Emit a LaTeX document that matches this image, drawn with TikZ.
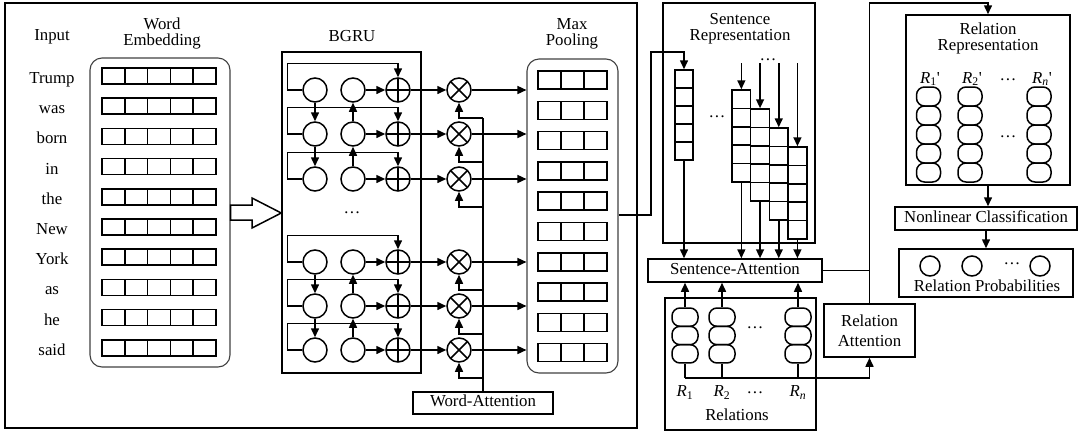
\documentclass[tikz,border=0pt]{standalone}
\usepackage{fontspec}
\setmainfont{Liberation Serif}
\usetikzlibrary{arrows.meta}

\tikzset{
  lbl/.style={anchor=base, inner sep=0pt},
  dots/.style={inner sep=0pt},
  box/.style={draw, inner sep=0pt, text height=10.5pt, text depth=3pt},
  panel/.style={draw, inner sep=0pt},
  soft/.style={draw=black!75, line width=1.1pt, inner sep=0pt, rounded corners=12pt},
  unit/.style={circle, draw, minimum size=24pt, inner sep=0pt},
  oplus/.style={unit, path picture={\draw (path picture bounding box.north) -- (path picture bounding box.south)
      (path picture bounding box.west) -- (path picture bounding box.east);}},
  otimes/.style={unit, path picture={\draw (path picture bounding box.north west) -- (path picture bounding box.south east)
      (path picture bounding box.north east) -- (path picture bounding box.south west);}},
  arr/.style={-{Triangle[length=9pt,width=8pt]}},
  pill/.style={rounded corners=8pt},
}

\begin{document}
\begin{tikzpicture}[x=1pt, y=-1pt, line width=1.5pt, font=\fontsize{16.8}{18}\selectfont]
\useasboundingbox (0,0) rectangle (1079,432);

% ---------- word-level encoder frame ----------
\node[panel, minimum width=632, minimum height=425] (enc) at (321,215.5) {};

\node[lbl] (tin) at (52,40.5) {Input};
\node[lbl] (twe1) at (162,29.3) {Word};
\node[lbl] (twe2) at (162,45.7) {Embedding};
\node[lbl] (tbg) at (352,41.5) {BGRU};
\node[lbl] (tmp1) at (572,29.3) {Max};
\node[lbl] (tmp2) at (572,45) {Pooling};

% words and their embedding rows
\node[soft, minimum width=140, minimum height=309] (we) at (160,212.5) {};
\foreach \w [count=\i from 0] in {Trump,was,born,in,the,New,York,as,he,said} {
  \pgfmathsetmacro\yc{76+30.2*\i}
  \node[lbl] (w\i) at (52,\yc+7.5) {\w};
  \foreach \k in {0,...,4} \draw (102+22.8*\k,\yc-8) rectangle ++(22.8,16);
}

% BGRU block
\node[panel, minimum width=139, minimum height=321] (bg) at (351.5,212.5) {};
\draw (we.east |- 0,205) -- (252,205) -- (252,198) -- (bg.west |- 0,213) -- (252,228) -- (252,220) -- (we.east |- 0,220) -- cycle;

% max pooling
\node[soft, minimum width=91, minimum height=314] (mp) at (572.5,216) {};
\foreach \i in {0,...,9}
  \foreach \k in {0,1,2} \draw (538+23*\k,71+30.3*\i) rectangle ++(23,18);

% word attention
\node[box, minimum width=140, minimum height=22] (wa) at (483,403) {Word-Attention};
\draw (wa.north) -- (wa.north |- 0,118);

\foreach \y [count=\r] in {90,134,179,262,306,350} {
  \node[unit] (a\r) at (315,\y) {};
  \node[unit] (b\r) at (353,\y) {};
  \node[oplus] (p\r) at (398,\y) {};
  \node[otimes] (m\r) at (459,\y) {};
  \draw[arr] (a\r.west) -- ++(-15,0) |- ([yshift=14pt]p\r.north) -- (p\r.north);
  \draw[arr] (b\r.east) -- (p\r.west);
  \draw[arr] (p\r.east) -- (m\r.west);
  \draw[arr] (m\r.east) -- (m\r.east -| mp.west);
  \draw[arr] (wa.north |- 0,\y+28) -| (m\r.south);
}
\foreach \r/\n in {1/2,2/3,4/5,5/6} {
  \draw[arr] (a\r.south) -- (a\n.north);
  \draw[arr] (b\n.north) -- (b\r.south);
}
\node[dots] (dbg) at (352,213) {…};

% ---------- sentence representation ----------
\node[panel, minimum width=152, minimum height=240] (sr) at (739,123) {};
\node[lbl] (tsr1) at (740,24) {Sentence};
\node[lbl] (tsr2) at (740,40.5) {Representation};

\node[panel, minimum width=18, minimum height=90] (v1) at (684,115) {};
\foreach \k in {1,...,4} \draw (675,70+18*\k) -- (693,70+18*\k);
\draw[arr] (mp.east |- 0,215) -- (651,215) |- (v1.north |- 0,52) -- (v1.north);
\node[dots] (dsr) at (717,117) {…};

\foreach \c/\x/\t in {A/741.35/90,B/760.05/109,C/778.75/128,D/797.45/147} {
  \node[panel, minimum width=18.7, minimum height=92] (s\c) at (\x,\t+46) {};
  \foreach \k in {1,...,4} \draw (\x-9.35,\t+18.4*\k) -- (\x+9.35,\t+18.4*\k);
  \coordinate (in\c) at (\x,63);
  \draw[arr] (in\c) -- (s\c.north);
}
\node[dots] (dtop) at (768,60) {…};

% sentence attention
\node[box, minimum width=174, minimum height=23] (sa) at (735,270.5) {Sentence-Attention};
\draw[arr] (v1.south) -- (v1.south |- sa.north);
\foreach \c in {A,B,C,D} \draw[arr] (s\c.south) -- (s\c.south |- sa.north);

% relations
\node[panel, minimum width=151, minimum height=132] (rl) at (740.5,364) {};
\node[panel, minimum width=91, minimum height=53] (ra) at (869.5,330.5) {};
\node[lbl] (tra1) at (869.5,326.7) {Relation};
\node[lbl] (tra2) at (869.5,346.7) {Attention};

\foreach \n/\x in {1/685,2/722,3/798} {
  \node[inner sep=0pt, minimum width=26, minimum height=55] (r\n) at (\x,335.5) {};
  \foreach \k in {0,1,2} \draw[pill] (\x-13,308+18.33*\k) rectangle ++(26,18.33);
  \draw[arr] (r\n.north) -- (r\n.north |- sa.south);
  \draw (r\n.south) -- (r\n.south |- 0,378);
}
\draw[arr] (r1.south |- 0,378) -| (ra.south);
\node[dots] (drl1) at (755,328) {…};
\node[lbl] (lr1) at (685,396.7) {\textit{R}\textsubscript{1}};
\node[lbl] (lr2) at (722,396.7) {\textit{R}\textsubscript{2}};
\node[dots] (drl2) at (755,393) {…};
\node[lbl] (lrn) at (798,396.7) {\textit{R}\textsubscript{\textit{n}}};
\node[lbl] (trl) at (737,420) {Relations};

% ---------- relation representation and classifier ----------
\node[panel, minimum width=164, minimum height=170] (rr) at (988,100) {};
\node[lbl] (trr1) at (988,34) {Relation};
\node[lbl] (trr2) at (988,50.5) {Representation};
\node[lbl] (lq1) at (930,83.3) {\textit{R}\textsubscript{1}\textquotesingle};
\node[lbl] (lq2) at (972,83.3) {\textit{R}\textsubscript{2}\textquotesingle};
\node[dots] (drr1) at (1008,80) {…};
\node[lbl] (lqn) at (1042,83.3) {\textit{R}\textsubscript{\textit{n}}\textquotesingle};
\foreach \n/\x in {1/928.5,2/970,3/1039} {
  \node[inner sep=0pt, minimum width=24, minimum height=95] (rv\n) at (\x,134.5) {};
  \foreach \k in {0,...,4} \draw[pill] (\x-12,87+19*\k) rectangle ++(24,19);
}
\node[dots] (drr2) at (1008,137) {…};

\draw (sa.east) -- (sa.east -| ra.north);
\draw[arr] (ra.north) -- (ra.north |- 0,3) -| (rr.north);

\node[box, minimum width=182, minimum height=23] (nc) at (986,218.5) {Nonlinear Classification};
\node[panel, minimum width=174, minimum height=48] (rp) at (986,273) {};
\foreach \n/\x in {1/930,2/972,3/1040} \node[circle, draw, minimum size=20pt, inner sep=0pt] (q\n) at (\x,266) {};
\node[dots] (drp) at (1012,264) {…};
\node[lbl] (trp) at (987,291.7) {Relation Probabilities};

\draw[arr] (rr.south) -- (rr.south |- nc.north);
\draw[arr] (nc.south) -- (nc.south |- rp.north);
\end{tikzpicture}
\end{document}
